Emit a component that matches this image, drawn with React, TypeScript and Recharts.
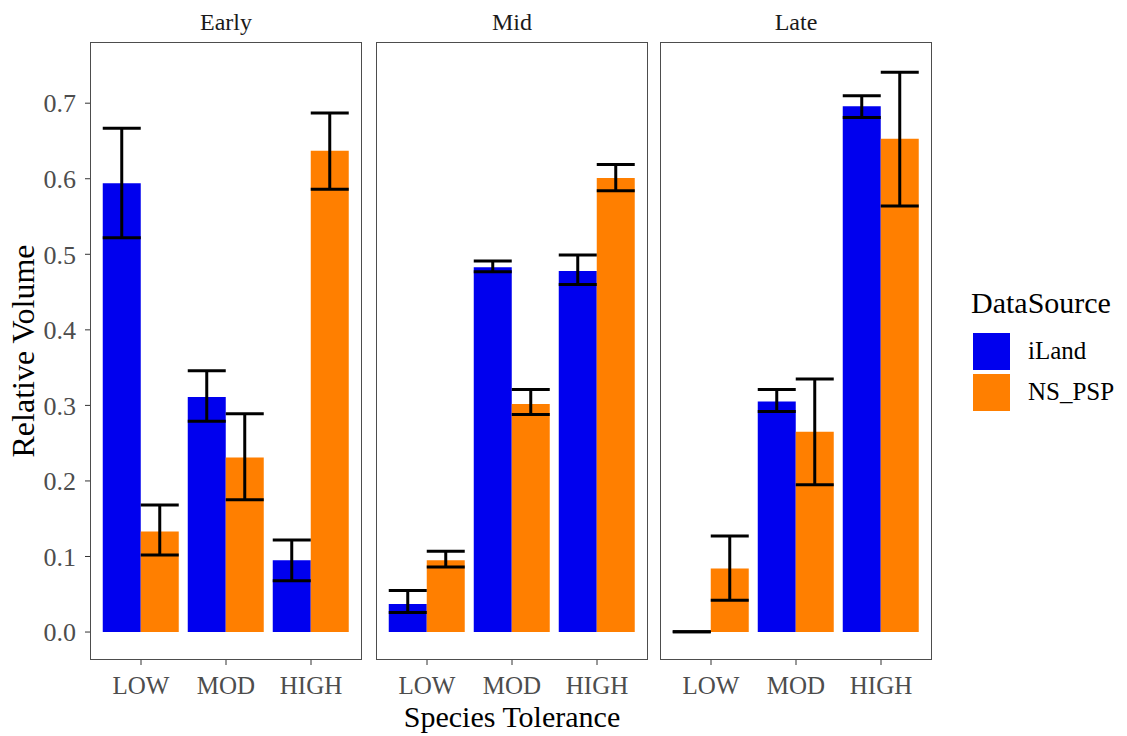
import React from 'react';
import { BarChart, Bar, XAxis, YAxis, ErrorBar, Legend } from 'recharts';

const categories = ['LOW', 'MOD', 'HIGH'];
const seriesNames = ['iLand', 'NS_PSP'];
const yTicks = [0, 0.1, 0.2, 0.3, 0.4, 0.5, 0.6, 0.7];

// Early
const earlyILand = [0.594, 0.311, 0.095];
const earlyILandLow = [0.522, 0.279, 0.068];
const earlyILandHigh = [0.667, 0.346, 0.122];
const earlyPSP = [0.133, 0.231, 0.637];
const earlyPSPLow = [0.102, 0.175, 0.586];
const earlyPSPHigh = [0.168, 0.289, 0.687];

// Mid
const midILand = [0.037, 0.483, 0.478];
const midILandLow = [0.026, 0.477, 0.46];
const midILandHigh = [0.055, 0.491, 0.499];
const midPSP = [0.095, 0.302, 0.601];
const midPSPLow = [0.086, 0.288, 0.584];
const midPSPHigh = [0.107, 0.321, 0.619];

// Late (LOW iLand is practically zero)
const lateILand = [0.0005, 0.305, 0.696];
const lateILandLow = [0.0005, 0.292, 0.681];
const lateILandHigh = [0.0005, 0.321, 0.71];
const latePSP = [0.084, 0.265, 0.653];
const latePSPLow = [0.042, 0.195, 0.564];
const latePSPHigh = [0.127, 0.335, 0.741];

const ILAND_COLOR = '#0000EE';
const PSP_COLOR = '#FF7F00';
const FONT = '"Liberation Serif", "Times New Roman", serif';

function buildRows(
  iland: number[],
  ilandLo: number[],
  ilandHi: number[],
  psp: number[],
  pspLo: number[],
  pspHi: number[]
) {
  return categories.map((cat, i) => ({
    tolerance: cat,
    iLand: iland[i],
    iLandErr: [iland[i] - ilandLo[i], ilandHi[i] - iland[i]],
    NS_PSP: psp[i],
    pspErr: [psp[i] - pspLo[i], pspHi[i] - psp[i]],
  }));
}

const earlyData = buildRows(earlyILand, earlyILandLow, earlyILandHigh, earlyPSP, earlyPSPLow, earlyPSPHigh);
const midData = buildRows(midILand, midILandLow, midILandHigh, midPSP, midPSPLow, midPSPHigh);
const lateData = buildRows(lateILand, lateILandLow, lateILandHigh, latePSP, latePSPLow, latePSPHigh);

const PLOT_TOP = 42;
const PLOT_W = 272;
const PLOT_H = 618;
const CHART_H = 736;

function LegendBox(props: any) {
  const payload = props.payload || [];
  // keep the factor order, not whatever order recharts hands back
  const items = seriesNames
    .map((name) => payload.find((p: any) => p.value === name))
    .filter(Boolean);
  return (
    <div style={{ position: 'relative', width: 150, height: 130, fontFamily: FONT }}>
      <div style={{ position: 'absolute', left: 0, top: 0, fontSize: 30, lineHeight: '30px', color: '#000' }}>
        DataSource
      </div>
      {items.map((item: any, i: number) => (
        <div key={item.value}>
          <div
            style={{
              position: 'absolute',
              left: 2,
              top: 45 + i * 41,
              width: 37,
              height: 37,
              background: item.color,
            }}
          />
          <div
            style={{
              position: 'absolute',
              left: 57,
              top: 49 + i * 41,
              fontSize: 25,
              lineHeight: '28px',
              color: '#000',
            }}
          >
            {item.value}
          </div>
        </div>
      ))}
    </div>
  );
}

interface PanelProps {
  data: any[];
  title: string;
  left: number;
  width: number;
  plotLeft: number;
  showYAxis?: boolean;
  xTitle?: string;
  showLegend?: boolean;
}

function Panel({ data, title, left, width, plotLeft, showYAxis = false, xTitle, showLegend = false }: PanelProps) {
  const yAxisWidth = showYAxis ? plotLeft - left : 0;
  const marginLeft = showYAxis ? 0 : plotLeft - left;
  const marginRight = width - (plotLeft - left) - PLOT_W;
  return (
    <div style={{ position: 'absolute', left, top: 0, width, height: CHART_H }}>
      <div
        style={{
          position: 'absolute',
          left: plotLeft - left,
          top: 10,
          width: PLOT_W,
          textAlign: 'center',
          fontSize: 24,
          lineHeight: '24px',
          color: '#1a1a1a',
        }}
      >
        {title}
      </div>
      <BarChart
        width={width}
        height={CHART_H}
        data={data}
        margin={{ top: PLOT_TOP, right: marginRight, bottom: 0, left: marginLeft }}
        barCategoryGap="5%"
        barGap={0}
      >
        <XAxis
          dataKey="tolerance"
          height={76}
          axisLine={false}
          tickLine={{ stroke: '#333333', strokeWidth: 1 }}
          tickSize={5}
          tickMargin={11}
          padding={{ left: 8.5, right: 8.5 }}
          tick={{ fontSize: 25, fill: '#4d4d4d' }}
          label={
            xTitle
              ? { value: xTitle, position: 'insideBottom', offset: 9, fontSize: 30, fill: '#000' }
              : undefined
          }
        />
        <YAxis
          hide={!showYAxis}
          width={yAxisWidth}
          domain={[-0.037, 0.781]}
          allowDataOverflow
          ticks={yTicks}
          tickFormatter={(v: number) => v.toFixed(1)}
          axisLine={false}
          tickLine={{ stroke: '#333333', strokeWidth: 1 }}
          tickSize={5}
          tickMargin={9}
          tick={{ fontSize: 26, fill: '#4d4d4d' }}
          label={
            showYAxis
              ? {
                  value: 'Relative Volume',
                  angle: -90,
                  position: 'insideLeft',
                  offset: 23,
                  fontSize: 32,
                  fill: '#000',
                  style: { textAnchor: 'middle' },
                }
              : undefined
          }
        />
        <Bar dataKey="iLand" name="iLand" fill={ILAND_COLOR} isAnimationActive={false}>
          <ErrorBar dataKey="iLandErr" width={19} stroke="#000" strokeWidth={3} direction="y" isAnimationActive={false} />
        </Bar>
        <Bar dataKey="NS_PSP" name="NS_PSP" fill={PSP_COLOR} isAnimationActive={false}>
          <ErrorBar dataKey="pspErr" width={19} stroke="#000" strokeWidth={3} direction="y" isAnimationActive={false} />
        </Bar>
        {showLegend && (
          <Legend
            layout="vertical"
            align="center"
            verticalAlign="middle"
            width={150}
            wrapperStyle={{ left: 971 - left, top: 288 }}
            content={LegendBox}
          />
        )}
      </BarChart>
      <div
        style={{
          position: 'absolute',
          left: plotLeft - left,
          top: PLOT_TOP,
          width: PLOT_W,
          height: PLOT_H,
          boxSizing: 'border-box',
          border: '1.5px solid #4d4d4d',
          pointerEvents: 'none',
        }}
      />
    </div>
  );
}

export default function App() {
  return (
    <div
      style={{
        position: 'absolute',
        left: 0,
        top: 0,
        width: 1127,
        height: 736,
        background: '#fff',
        fontFamily: FONT,
      }}
    >
      <Panel data={earlyData} title="Early" left={0} width={370} plotLeft={90} showYAxis />
      <Panel data={midData} title="Mid" left={366} width={290} plotLeft={376} xTitle="Species Tolerance" />
      <Panel data={lateData} title="Late" left={650} width={477} plotLeft={660} showLegend />
    </div>
  );
}
